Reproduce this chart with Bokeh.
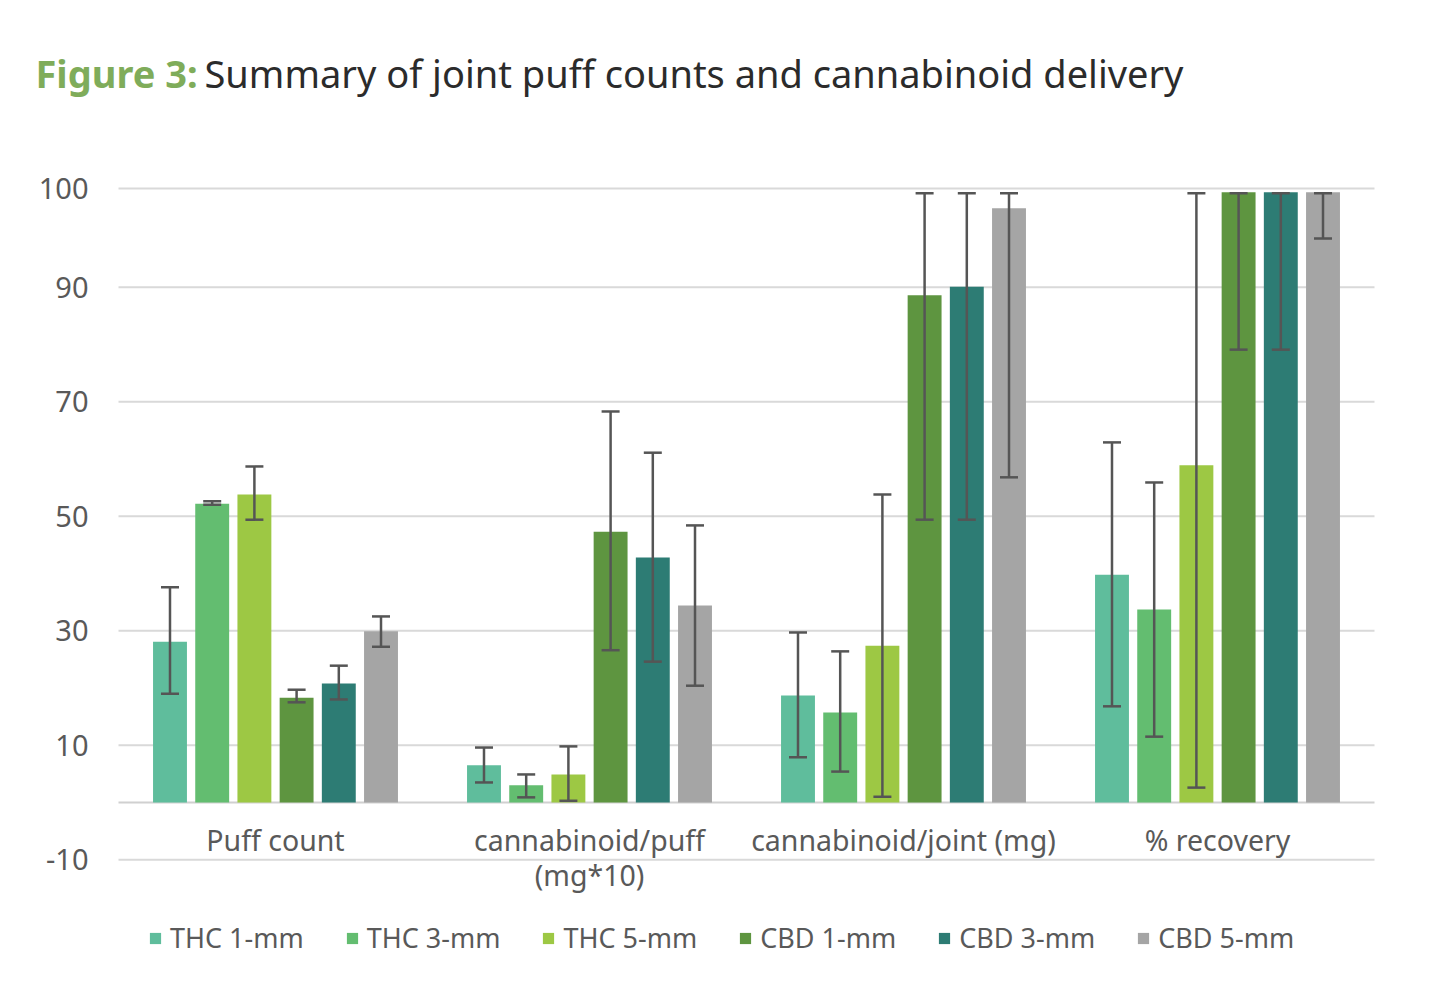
from bokeh.plotting import figure
from bokeh.models import (ColumnDataSource, Range1d, FixedTicker, Whisker, TeeHead,
                          Label, Legend, LegendItem)
from bokeh.core.properties import value
from bokeh.embed import file_html
from bokeh.resources import INLINE

# ---------------- data ----------------
categories = ["Puff count", "cannabinoid/puff\n(mg*10)", "cannabinoid/joint (mg)", "% recovery"]
series = ["THC 1-mm", "THC 3-mm", "THC 5-mm", "CBD 1-mm", "CBD 3-mm", "CBD 5-mm"]
colors = ["#5fbd9c", "#63bd70", "#9dc844", "#5e9540", "#2d7c74", "#a5a5a5"]

thc1 = [28.1, 6.5, 18.7, 39.8]
thc3 = [52.2, 3.0, 15.7, 33.7]
thc5 = [53.8, 4.9, 27.4, 58.9]
cbd1 = [18.3, 47.3, 88.6, 106.6]
cbd3 = [20.8, 42.8, 90.1, 106.6]
cbd5 = [29.9, 34.4, 103.8, 106.6]

thc1_hi = [37.6, 9.6, 29.7, 62.9]
thc1_lo = [19.0, 3.5, 7.9, 16.8]
thc3_hi = [52.6, 4.9, 26.4, 55.9]
thc3_lo = [52.0, 0.9, 5.4, 11.5]
thc5_hi = [58.7, 9.8, 53.8, 106.4]
thc5_lo = [49.4, 0.3, 1.0, 2.6]
cbd1_hi = [19.7, 68.3, 106.4, 106.4]
cbd1_lo = [17.5, 26.6, 49.4, 79.1]
cbd3_hi = [23.9, 61.1, 106.4, 106.4]
cbd3_lo = [18.0, 24.6, 49.4, 79.1]
cbd5_hi = [32.5, 48.4, 106.4, 106.4]
cbd5_lo = [27.2, 20.4, 56.8, 98.5]

tick_values = [-10, 10, 30, 50, 70, 90, 107.25]
tick_labels = ["-10", "10", "30", "50", "70", "90", "100"]

title_lead = "Figure 3:"
title_text = "Summary of joint puff counts and cannabinoid delivery"

values = [thc1, thc3, thc5, cbd1, cbd3, cbd5]
highs = [thc1_hi, thc3_hi, thc5_hi, cbd1_hi, cbd3_hi, cbd5_hi]
lows = [thc1_lo, thc3_lo, thc5_lo, cbd1_lo, cbd3_lo, cbd5_lo]

FONT = "Noto Sans"
W, H = 1445, 1000

# plot-area geometry (pixels) -> ranges
PL, PR = 118, 1374         # left / right edge of the bar area
Y0, PX_PER_UNIT = 802, 5.725
n = len(categories)
ux = (PR - PL) / n
x_range = Range1d(-PL / ux, n + (W - PR) / ux)
y_range = Range1d(-(H - Y0) / PX_PER_UNIT, Y0 / PX_PER_UNIT)

p = figure(width=W, height=H, output_backend="svg", toolbar_location=None,
           x_range=x_range, y_range=y_range,
           min_border_left=0, min_border_right=0, min_border_top=0, min_border_bottom=0)
p.outline_line_color = None
p.xaxis.visible = False
p.xgrid.visible = False

yax = p.yaxis[0]
yax.fixed_location = 0
yax.ticker = FixedTicker(ticks=tick_values)
yax.major_label_overrides = {v: l for v, l in zip(tick_values, tick_labels)}
yax.axis_line_color = None
yax.major_tick_line_color = None
yax.minor_tick_line_color = None
yax.major_tick_out = 0
yax.major_tick_in = 0
yax.major_label_standoff = 30
yax.major_label_text_font = FONT
yax.major_label_text_font_size = "29px"
yax.major_label_text_color = "#595959"

p.ygrid.visible = False
# horizontal gridlines limited to the bar area
p.segment(x0=0, x1=n, y0=tick_values, y1=tick_values, line_color="#d9d9d9", line_width=2)
p.segment(x0=0, x1=n, y0=0, y1=0, line_color="#d0d0d0", line_width=2)

pitch = 0.1344
bar_w = 0.108
centers = [i + 0.5 for i in range(n)]

items = []
for si, name in enumerate(series):
    xs = [c + (si - 2.5) * pitch for c in centers]
    src = ColumnDataSource(dict(x=xs, top=values[si], hi=highs[si], lo=lows[si]))
    r = p.vbar(x="x", top="top", bottom=0, width=bar_w, source=src,
               fill_color=colors[si], line_color=None)
    items.append(LegendItem(label=name, renderers=[r]))
    wh = Whisker(base="x", upper="hi", lower="lo", source=src, level="annotation",
                 line_color="#555555", line_width=2.5,
                 upper_head=TeeHead(size=18, line_color="#555555", line_width=2.5),
                 lower_head=TeeHead(size=18, line_color="#555555", line_width=2.5))
    p.add_layout(wh)

# category labels
lab_src = ColumnDataSource(dict(x=centers, y=[-3.3] * n, t=categories))
p.text(x="x", y="y", text="t", source=lab_src, text_align="center", text_baseline="top",
       text_font=value(FONT), text_font_size="28.5px", text_color="#595959",
       text_line_height=0.9)

legend = Legend(items=items, orientation="horizontal", location=(148, 44),
                glyph_width=14, glyph_height=14, label_standoff=8, spacing=41,
                padding=0, margin=0, border_line_color=None, background_fill_alpha=0,
                label_text_font=FONT, label_text_font_size="27px", label_text_color="#595959")
p.add_layout(legend, "center")

# title
p.add_layout(Label(x=35, y=H - 72, x_units="screen", y_units="screen",
                   text=title_lead, text_font=FONT, text_font_style="bold",
                   text_font_size="38px", text_color="#7fac5a", text_baseline="alphabetic"))
p.add_layout(Label(x=204, y=H - 72, x_units="screen", y_units="screen",
                   text=title_text, text_font=FONT,
                   text_font_size="38px", text_color="#2b2b2b", text_baseline="alphabetic"))

open("out.html", "w").write(file_html(p, INLINE))
